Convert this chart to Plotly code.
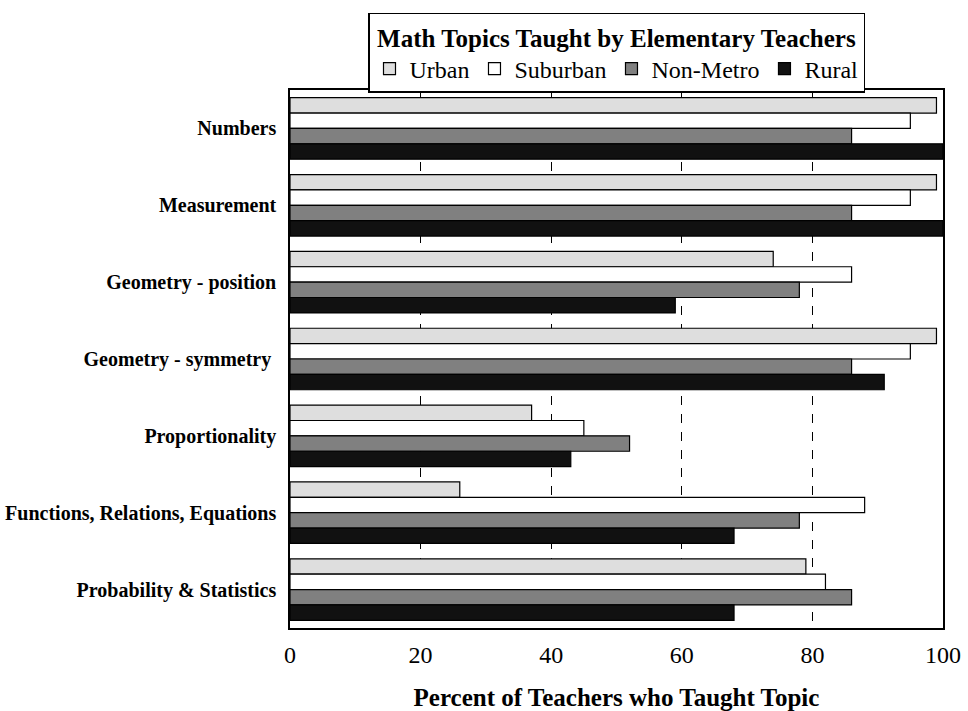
import plotly.graph_objects as go

categories = ["Numbers", "Measurement", "Geometry - position", "Geometry - symmetry\u00a0",
              "Proportionality", "Functions, Relations, Equations", "Probability & Statistics"]
urban = [99, 99, 74, 99, 37, 26, 79]
suburban = [95, 95, 86, 95, 45, 88, 82]
non_metro = [86, 86, 78, 86, 52, 78, 86]
rural = [100, 100, 59, 91, 43, 68, 68]

series = [("Urban", urban, "#dedede"), ("Suburban", suburban, "#ffffff"),
          ("Non-Metro", non_metro, "#808080"), ("Rural", rural, "#111111")]

FONT = "Liberation Serif, Times New Roman, serif"

fig = go.Figure()
for name, vals, color in series:
    fig.add_trace(go.Bar(
        y=categories, x=vals, name=name, orientation="h",
        marker=dict(color=color, line=dict(color="#000000", width=1.2)),
    ))

fig.update_layout(
    width=968, height=711,
    margin=dict(l=290, r=25, t=87, b=83),
    paper_bgcolor="white", plot_bgcolor="white",
    barmode="group", bargap=0.2, bargroupgap=0,
    font=dict(family=FONT, color="black"),
    showlegend=True,
    legend=dict(
        orientation="h", x=0.5, xanchor="center", y=1.144, yanchor="top",
        bordercolor="black", borderwidth=1.5, bgcolor="white",
        font=dict(family=FONT, size=24, color="black"),
        title=dict(text="<b>Math Topics Taught by Elementary Teachers</b>", side="top center",
                   font=dict(family=FONT, size=25, color="black")),
        itemwidth=30, tracegroupgap=0,
    ),
    xaxis=dict(
        range=[0, 100], tickvals=[0, 20, 40, 60, 80, 100],
        showgrid=True, gridcolor="black", griddash="dash", gridwidth=1,
        zeroline=False, showline=True, mirror=True, linecolor="black", linewidth=1.5,
        layer="above traces", automargin=False,
        ticks="", tickfont=dict(family=FONT, size=24, color="black"),
        ticklabelstandoff=4,
        title=dict(text="<b>Percent of Teachers who Taught Topic</b>",
                   font=dict(family=FONT, size=25, color="black"), standoff=22),
    ),
    yaxis=dict(
        categoryorder="array", categoryarray=categories, autorange="reversed",
        showgrid=False, zeroline=False, showline=True, mirror=True,
        linecolor="black", linewidth=1.5, ticks="", layer="above traces",
        automargin=False,
        tickfont=dict(family=FONT, size=20, color="black", weight="bold"),
        ticklabelstandoff=8,
    ),
)

fig.write_html(
    "out.html",
    config={"displayModeBar": False},
    post_script="document.body.style.margin='0';document.body.style.overflow='hidden';",
)
